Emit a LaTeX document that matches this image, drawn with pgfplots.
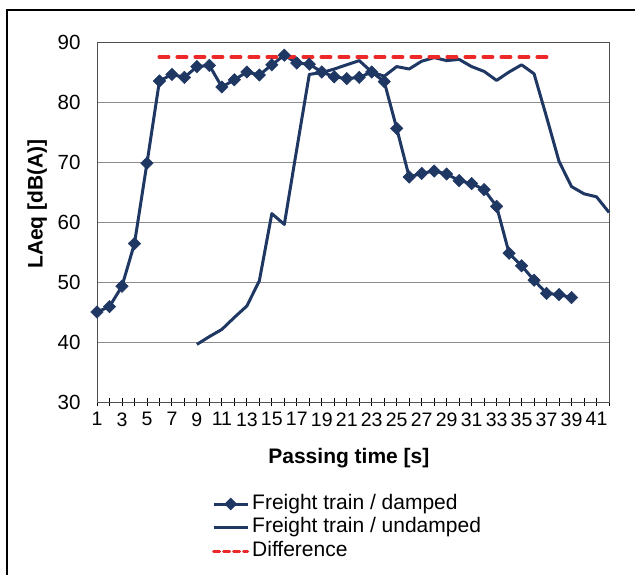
\documentclass[border=0pt]{standalone}
\usepackage{fontspec}
\setmainfont{Liberation Sans}
\usepackage{pgfplots}
\pgfplotsset{compat=1.18}
\definecolor{navy}{RGB}{31,55,99}
\definecolor{dred}{RGB}{236,40,40}
\definecolor{gridgray}{RGB}{140,140,140}
\definecolor{axgray}{RGB}{80,80,80}
\begin{document}
\begin{tikzpicture}
\useasboundingbox (0pt,0pt) rectangle (635pt,574pt);
\draw[line width=1.6pt,black] (7pt,-5pt) -- (7pt,564pt) -- (645pt,564pt);
\begin{axis}[
  at={(97pt,172pt)}, anchor=south west,
  width=512pt, height=360pt, scale only axis,
  xmin=1, xmax=42, ymin=30, ymax=90,
  xtick={1,...,42},
  xticklabels={1,,3,,5,,7,,9,,11,,13,,15,,17,,19,,21,,23,,25,,27,,29,,31,,33,,35,,37,,39,,41,},
  ytick={30,40,...,90},
  ymajorgrids, major grid style={gridgray, line width=0.9pt},
  axis line style={axgray, line width=1pt},
  x tick style={black, line width=0.9pt},
  tick align=center, xtick pos=bottom, ytick pos=left,
  major tick length=8pt,
  y tick style={draw=none},
  /pgf/number format/assume math mode=true,
  yticklabel style={font=\fontsize{20.5}{24}\selectfont, black, xshift=-9pt},
  xticklabel style={font=\fontsize{19.5}{23}\selectfont, black, yshift=-3pt},
  xlabel={\textbf{Passing time [s]}},
  ylabel={\textbf{LAeq [dB(A)]}},
  label style={font=\fontsize{21}{25}\selectfont},
  xlabel style={at={(axis description cs:0.492,-0.155)}, anchor=center},
  ylabel style={at={(axis description cs:-0.117,0.55)}, anchor=center, rotate=0},
  legend style={at={(0.2246,-0.255)}, anchor=north west, draw=none, fill=none,
    font=\fontsize{21}{25}\selectfont, inner sep=0pt, row sep=3.5pt,
    nodes={inner xsep=3pt, inner ysep=0pt, text height=15pt, text depth=5pt}},
  legend cell align=left,
  clip=false,
]
\addplot[navy, line width=3pt, mark=square*, mark size=4.4pt,
  mark options={rotate=45, line width=0.5pt, fill=navy},
  legend image code/.code={\draw[navy, line width=3pt] (0pt,0pt) -- (34pt,0pt);
    \fill[navy, rotate around={45:(17pt,0pt)}] (14pt,-3pt) rectangle (20pt,3pt);}]
coordinates {
(1,45.0) (2,45.9) (3,49.3) (4,56.4) (5,69.8) (6,83.5) (7,84.6) (8,84.1) (9,85.9) (10,86.1)
(11,82.5) (12,83.7) (13,85.0) (14,84.5) (15,86.2) (16,87.8) (17,86.5) (18,86.3) (19,85.0) (20,84.2)
(21,83.9) (22,84.1) (23,85.0) (24,83.4) (25,75.6) (26,67.5) (27,68.1) (28,68.5) (29,68.0) (30,66.9)
(31,66.4) (32,65.4) (33,62.6) (34,54.8) (35,52.7) (36,50.3) (37,48.1) (38,47.9) (39,47.4)
};
\addlegendentry{Freight train / damped}
\addplot[navy, line width=3pt, line join=round,
  legend image code/.code={\draw[navy, line width=3pt] (0pt,0pt) -- (34pt,0pt);}]
coordinates {
(9,39.6) (10,40.9) (11,42.1) (12,44.1) (13,46.0) (14,50.2) (15,61.4) (16,59.6) (17,72.2) (18,84.6)
(19,84.9) (20,85.5) (21,86.2) (22,86.9) (23,85.0) (24,84.3) (25,85.9) (26,85.5) (27,86.8) (28,87.4)
(29,86.9) (30,87.1) (31,85.9) (32,85.1) (33,83.6) (34,85.0) (35,86.2) (36,84.7) (37,77.5) (38,70.1)
(39,65.9) (40,64.7) (41,64.2) (42,61.6)
};
\addlegendentry{Freight train / undamped}
\addplot[dred, line width=4pt, line cap=round, dash pattern=on 9pt off 9pt,
  legend image code/.code={\draw[dred, line width=3pt, dash pattern=on 6pt off 4pt] (0pt,0pt) -- (34pt,0pt);}]
coordinates {
(6,87.5) (7,87.5) (8,87.5) (9,87.5) (10,87.5) (11,87.5) (12,87.5) (13,87.5) (14,87.5) (15,87.5)
(16,87.5) (17,87.5) (18,87.5) (19,87.5) (20,87.5) (21,87.5) (22,87.5) (23,87.5) (24,87.5) (25,87.5)
(26,87.5) (27,87.5) (28,87.5) (29,87.5) (30,87.5) (31,87.5) (32,87.5) (33,87.5) (34,87.5) (35,87.5)
(36,87.5) (37,87.5)
};
\addlegendentry{Difference}
\end{axis}
\end{tikzpicture}
\end{document}
